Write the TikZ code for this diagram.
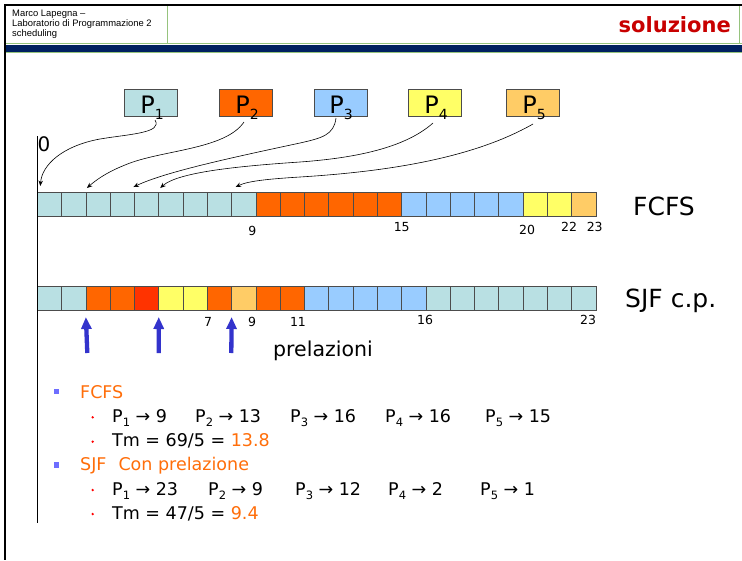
\documentclass[tikz,border=0pt]{standalone}
\usepackage{fontspec}
\setmainfont{DejaVu Sans}
\newfontfamily\arialf{Liberation Sans}
\usetikzlibrary{arrows.meta,calc}
\newcommand\myfs[1]{\fontsize{#1}{#1}\selectfont}
\newcommand\bigP[1]{{\myfs{24}P}\raisebox{-6pt}{\myfs{14}#1}}
\newcommand\smP[1]{P\raisebox{-4pt}{\myfs{11.5}#1}}
\definecolor{cteal}{RGB}{185,224,227}
\definecolor{corange}{RGB}{255,102,0}
\definecolor{cred}{RGB}{255,51,0}
\definecolor{cblue}{RGB}{153,204,255}
\definecolor{cyellow}{RGB}{255,255,102}
\definecolor{clor}{RGB}{255,204,102}
\definecolor{navy}{RGB}{0,32,96}
\definecolor{hgreen}{RGB}{150,195,125}
\definecolor{soluz}{RGB}{200,0,0}
\definecolor{arrblue}{RGB}{51,51,204}
\definecolor{bulblue}{RGB}{110,110,255}
\definecolor{torange}{RGB}{255,110,10}
\begin{document}
\begin{tikzpicture}[x=1pt,y=-1pt,
  cell/.style={draw=black!70,line width=0.7pt,minimum width=24.29pt,minimum height=24pt,inner sep=0pt,outer sep=0pt,anchor=north west},
  pbox/.style={draw=black!70,line width=0.8pt,minimum width=53pt,minimum height=27pt,inner sep=0pt,outer sep=0pt},
  conn/.style={-{Stealth[length=5.5pt,width=4.5pt]},line width=0.6pt},
  barr/.style={arrblue,line width=4.3pt,-{Triangle[length=12pt,width=10pt]}},
  tick/.style={font=\myfs{12.5},inner sep=0pt},
  txt/.style={anchor=base west,inner sep=0pt},
  item/.style={txt,font=\myfs{17.5}},
  hl/.style={hgreen,line width=0.8pt}
]
\useasboundingbox (0,0) rectangle (742,560);
\fill[white] (0,0) rectangle (742,560);
% header
\draw[hl] (167,6) -- (167,44);
\draw[hl] (739.3,6) -- (739.3,44);
\draw[hl] (6,43.6) -- (742,43.6);
\fill[navy] (6,45) rectangle (742,51.7);
\draw[hl] (6,52.4) -- (742,52.4);
\draw[black,line width=2pt] (5,5) -- (742,5);
\draw[black,line width=2pt] (5,4) -- (5,560);
\node[txt,font=\arialf\myfs{9.4}] (hd1) at (12,16.7) {Marco Lapegna –};
\node[txt,font=\arialf\myfs{9.4}] (hd2) at (12,26.7) {Laboratorio di Programmazione 2};
\node[txt,font=\arialf\myfs{9.4}] (hd3) at (12,36) {scheduling};
\node[anchor=base east,inner sep=0pt,font=\bfseries\myfs{21},text=soluz] (sol) at (731,32) {soluzione};
% process boxes
\node[pbox,fill=cteal] (p1) at (150.5,102.5) {};
\node[pbox,fill=corange] (p2) at (245.5,102.5) {};
\node[pbox,fill=cblue] (p3) at (340.5,102.5) {};
\node[pbox,fill=cyellow] (p4) at (434.5,102.5) {};
\node[pbox,fill=clor] (p5) at (533,102.5) {};
\node[anchor=base,inner sep=0pt] (l1) at (152,113) {\bigP{1}};
\node[anchor=base,inner sep=0pt] (l2) at (247,113) {\bigP{2}};
\node[anchor=base,inner sep=0pt] (l3) at (341,113) {\bigP{3}};
\node[anchor=base,inner sep=0pt] (l4) at (436,113) {\bigP{4}};
\node[anchor=base,inner sep=0pt] (l5) at (534,113) {\bigP{5}};
% bars
\foreach \c [count=\i from 0] in {cteal,cteal,cteal,cteal,cteal,cteal,cteal,cteal,cteal,corange,corange,corange,corange,corange,corange,cblue,cblue,cblue,cblue,cblue,cyellow,cyellow,clor}
  {\node[cell,fill=\c] (f\i) at ({37.3+24.29*\i},192) {};}
\foreach \c [count=\i from 0] in {cteal,cteal,corange,corange,cred,cyellow,cyellow,corange,clor,corange,corange,cblue,cblue,cblue,cblue,cblue,cteal,cteal,cteal,cteal,cteal,cteal,cteal}
  {\node[cell,fill=\c] (s\i) at ({37.3+24.29*\i},286) {};}
% zero
\draw[line width=1.2pt] (37.3,136) -- (37.3,523);
\node[txt,font=\myfs{20}] (zero) at (37.5,151) {0};
% connectors
\coordinate (a1) at (155,120);
\coordinate (a2) at (244,122);
\coordinate (a3) at (336,118);
\coordinate (a4) at (433,123);
\coordinate (a5) at (533,124);
\draw[conn] (a1) .. controls (163,133) and (130,134) .. (100,139) .. controls (62,146) and (42,165) .. ($(f0.north west)+(3,-6)$);
\draw[conn] (a2) .. controls (225,150) and (160,150) .. (125,165) .. controls (105,173) and (95,181) .. ($(f2.north west)+(1,-4)$);
\draw[conn] (a3) .. controls (334,135) and (322,138) .. (300,143) .. controls (230,158) and (165,172) .. ($(f4.north west)+(-1,-5)$);
\draw[conn] (a4) .. controls (405,148) and (355,158) .. (300,162) .. controls (240,166) and (178,172) .. ($(f5.north west)+(1.5,-4)$);
\draw[conn] (a5) .. controls (470,160) and (380,172) .. (300,177) .. controls (268,179) and (248,181) .. ($(f8.north west)+(4,-5)$);
% ticks
\node[tick] (ft9) at (252.3,231) {9};
\node[tick] (ft15) at (401.7,226.7) {15};
\node[tick] (ft20) at (527,229.5) {20};
\node[tick] (ft22) at (569,227) {22};
\node[tick] (ft23) at (594.7,227) {23};
\node[tick] (st7) at (208,322.3) {7};
\node[tick] (st9) at (252,322.3) {9};
\node[tick] (st11) at (298,322) {11};
\node[tick] (st16) at (425,320) {16};
\node[tick] (st23) at (588,320) {23};
% right labels
\node[txt,font=\myfs{25}] (lf) at (633,215) {FCFS};
\node[txt,font=\myfs{25}] (ls) at (625,307) {SJF c.p.};
% preemption arrows
\coordinate (b1) at (87.3,353);
\coordinate (b2) at (158.7,353);
\coordinate (b3) at (231.3,353);
\draw[barr] (b1) -- ($(s2.south west)+(0,7)$);
\draw[barr] (b2) -- ($(s5.south west)+(0,7)$);
\draw[barr] (b3) -- ($(s8.south west)+(0,7)$);
\node[txt,font=\myfs{20.5}] (prel) at (273,356) {prelazioni};
% list
\fill[bulblue] (54,389) rectangle (59.3,394.3);
\fill[bulblue] (54,462.3) rectangle (59.3,467.6);
\fill[red] (92.7,417.3) circle (1.3);
\fill[red] (92.7,441.7) circle (1.3);
\fill[red] (92.7,490) circle (1.3);
\fill[red] (92.7,514) circle (1.3);
\node[item,text=torange] (h1) at (80,398.3) {FCFS};
\node[item] (i11) at (112,422.5) {\smP{1} → 9};
\node[item] (i12) at (195,422.5) {\smP{2} → 13};
\node[item] (i13) at (290,422.5) {\smP{3} → 16};
\node[item] (i14) at (385,422.5) {\smP{4} → 16};
\node[item] (i15) at (485,422.5) {\smP{5} → 15};
\node[item] (tm1) at (112,446) {Tm = 69/5 = \textcolor{torange}{13.8}};
\node[item,text=torange] (h2) at (80,470.7) {SJF\hspace{12pt}Con prelazione};
\node[item] (i21) at (112,495) {\smP{1} → 23};
\node[item] (i22) at (208,495) {\smP{2} → 9};
\node[item] (i23) at (295,495) {\smP{3} → 12};
\node[item] (i24) at (388,495) {\smP{4} → 2};
\node[item] (i25) at (480,495) {\smP{5} → 1};
\node[item] (tm2) at (112,519.3) {Tm = 47/5 = \textcolor{torange}{9.4}};
\end{tikzpicture}
\end{document}
